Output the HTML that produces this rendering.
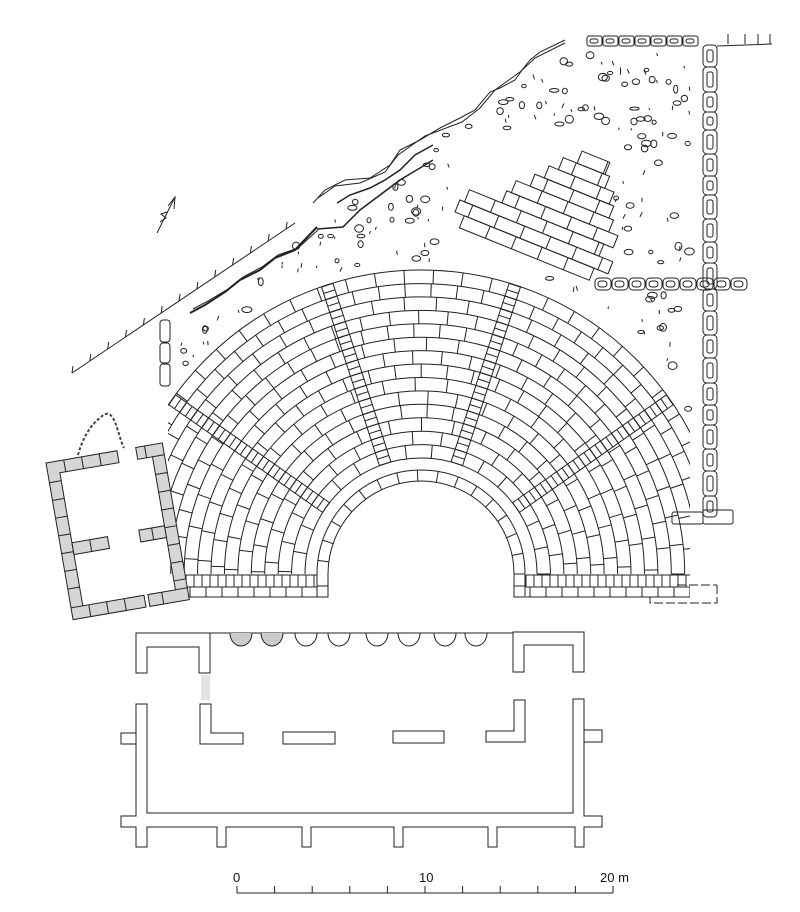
<!DOCTYPE html>
<html><head><meta charset="utf-8"><style>
html,body{margin:0;padding:0;background:#fff;}
svg{display:block;}
text{font-family:"Liberation Sans",sans-serif;font-size:13px;fill:#111;}
</style></head><body>
<svg id="s" width="800" height="912" viewBox="0 0 800 912" xmlns="http://www.w3.org/2000/svg">
<defs>
<clipPath id="cav"><path d="M168,598 L168,400 L200,350 L250,300 L300,270 L421,262 L560,275 L650,330 L690,400 L690,598 Z"/></clipPath>
</defs>
<g id="cavea" clip-path="url(#cav)" fill="none" stroke="#222" stroke-width="1"></g>
<g id="misc" fill="none" stroke="#222" stroke-width="1"></g>

<!-- left building -->
<g transform="translate(46,463) rotate(-9.8)" fill="#d6d6d6" stroke="#222" stroke-width="1">
<path d="M0,0 H72 V12 H12 V147 H74 V159 H0 Z"/>
<path d="M91,0 H118 V159 H78 V147 H106 V12 H91 Z"/>
<rect x="12" y="83" width="36" height="12"/>
<rect x="80" y="82" width="26" height="12"/>
<g stroke="#222" fill="none">
<path d="M18,0V12M36,0V12M54,0V12M0,20H12M0,38H12M0,56H12M0,74H12M0,92H12M0,110H12M0,128H12M0,147H12M18,147V159M36,147V159M54,147V159M30,83V95"/>
<path d="M106,12H118M106,30H118M106,48H118M106,66H118M106,84H118M106,102H118M106,120H118M106,138H118M106,147H118M92,147V159M93,82V94M100,0V12"/>
</g>
</g>
<path d="M78,455 C82,440 90,425 100,418 C106,412 110,412 114,420 C118,428 120,440 124,448" fill="none" stroke="#444" stroke-width="2" stroke-dasharray="3,2"/>

<!-- scene building -->
<g fill="none" stroke="#222" stroke-width="1">
<path d="M136,633 H210 V673 H199 V647 H147 V673 H136 Z"/>
<path d="M210,633 H513"/>
<path d="M513,632 H584 V672 H573 V645 H524 V672 H513 Z"/>
<path d="M136,704 H147 V813 H573 V699 H584 V816 H602 V827 H584 V847 H575 V827 H497 V847 H488 V827 H403 V847 H394 V827 H311 V847 H302 V827 H226 V847 H217 V827 H147 V847 H136 V827 H121 V816 H136 Z"/>
<rect x="121" y="733" width="15" height="11"/>
<rect x="584" y="730" width="18" height="12"/>
<path d="M200,704 H211 V733 H243 V744 H200 Z"/>
<rect x="283" y="732" width="52" height="12"/>
<rect x="393" y="731" width="51" height="12"/>
<path d="M514,700 H525 V742 H486 V731 H514 Z"/>
<path d="M230,633 a11,13 0 0 0 22,0" fill="#ccc"/>
<path d="M261,633 a11,13 0 0 0 22,0" fill="#ccc"/>
<path d="M295,633 a11,13 0 0 0 22,0"/>
<path d="M328,633 a11,13 0 0 0 22,0"/>
<path d="M366,633 a11,13 0 0 0 22,0"/>
<path d="M398,633 a11,13 0 0 0 22,0"/>
<path d="M434,633 a11,13 0 0 0 22,0"/>
<path d="M465,633 a11,13 0 0 0 22,0"/>
</g>
<rect x="201" y="675" width="9" height="25" fill="#e4e4e4"/>

<!-- scale bar -->
<g stroke="#222" stroke-width="1" fill="none" id="scale"><path d="M237,893 H613"/></g>
<text x="233" y="882">0</text>
<text x="419" y="882">10</text>
<text x="600" y="882">20 m</text>
</svg>
<script>
(function(){
var NS="http://www.w3.org/2000/svg";
var cav=document.getElementById('cavea'),misc=document.getElementById('misc');
function el(p,t,a){var e=document.createElementNS(NS,t);for(var k in a)e.setAttribute(k,a[k]);p.appendChild(e);return e;}
function line(p,x1,y1,x2,y2,w){el(p,'line',{x1:x1.toFixed(1),y1:y1.toFixed(1),x2:x2.toFixed(1),y2:y2.toFixed(1),'stroke-width':w||1});}
var cx=421,cy=574,D=Math.PI/180;
function P(a,r){return [cx+r*Math.cos(a*D),cy-r*Math.sin(a*D)];}
var R0=116,R1=304,N=14,dr=(R1-R0)/N;
for(var i=0;i<=N;i++){var r=R0+i*dr;var a=P(0,r),b=P(180,r);
 el(cav,'path',{d:'M'+a[0]+','+a[1]+' A'+r+','+r+' 0 0 0 '+b[0]+','+b[1]});}
var aisles=[108,72,145,35];
function inA(a,r){for(var k=0;k<4;k++){if(Math.abs(r*Math.sin((a-aisles[k])*D))<7&&Math.cos((a-aisles[k])*D)>0)return true;}return false;}
for(var i=0;i<N;i++){var r=R0+i*dr,r2=r+dr,rm=r+dr/2;var step=(26+ (i%3)*3)/rm/D;var off=(i%2)*step/2+ (i*7)%5;
 for(var a=off;a<=180;a+=step){if(inA(a,rm))continue;var p=P(a,r),q=P(a,r2);line(cav,p[0],p[1],q[0],q[1]);}}
for(var k=0;k<4;k++){var t=aisles[k]*D;var ux=Math.cos(t),uy=-Math.sin(t),nx=Math.sin(t),ny=Math.cos(t);
 for(var s=-1;s<=1;s+=2){line(cav,cx+R0*ux+s*6*nx,cy+R0*uy+s*6*ny,cx+R1*ux+s*6*nx,cy+R1*uy+s*6*ny);}
 for(var r=R0;r<=R1;r+=6.7){line(cav,cx+r*ux-6*nx,cy+r*uy-6*ny,cx+r*ux+6*nx,cy+r*uy+6*ny);}
 // gap whites are approximated
}
// bottom bands
function band(x1,x2){line(cav,x1,575,x2,575);line(cav,x1,587,x2,587);line(cav,x1,597,x2,597);
 for(var x=x1;x<=x2;x+=8)line(cav,x,575,x,587);for(var x=x1+4;x<=x2;x+=16)line(cav,x,587,x,597);}
band(186,317);band(526,690);
// orchestra ring
var ro=104,ri=93;
[ro,ri].forEach(function(r){var a=P(0,r),b=P(180,r);el(misc,'path',{d:'M'+a[0]+','+a[1]+' A'+r+','+r+' 0 0 0 '+b[0]+','+b[1]});});
el(misc,'path',{d:'M317,574 V597 H328 V574 M514,574 V597 H525 V574'});
for(var a=0;a<=180;a+=11.5){var p=P(a,ri),q=P(a,ro);line(misc,p[0],p[1],q[0],q[1]);}
line(misc,317,586,328,586);line(misc,514,586,525,586);
// right bottom dashed lines
el(misc,'path',{d:'M677,585 H717 M540,597 H650 V603 H717 V585','stroke-dasharray':'9,3'});
// scale ticks
var sc=document.getElementById('scale');for(var j=0;j<=10;j++){var x=237+j*37.6;line(sc,x,893,x,886);}
// hatched boundary
var hx1=72,hy1=373,hx2=295,hy2=223;line(misc,hx1,hy1,hx2,hy2);
for(var j=0;j<13;j++){var x=hx1+(hx2-hx1)*j/12.5,y=hy1+(hy2-hy1)*j/12.5;line(misc,x,y,x+1,y-7);}
// cracks
function pl(pts,w){el(misc,'polyline',{points:pts,'stroke-width':w||1});}
pl('190,313 205,305 225,292 240,280 260,270 275,258 295,250 317,227',2);
pl('193,309 208,301 228,289 243,277 262,267 278,255 298,248 318,230',1);
pl('317,229 343,227 360,210 380,195 400,180 420,168 433,160',1.5);
pl('337,203 350,195 370,188 385,180 400,170 415,155 433,145',1.5);
pl('313,203 325,190 345,180 370,178 390,165 400,150 420,140 440,128 460,118 475,110 490,92 500,88 515,80 522,70 530,60 540,52 565,40',1);
pl('318,198 335,186 360,183 385,172 398,155 425,136 462,122 480,108 495,90 520,72 535,58 565,43',1);
// north arrow
pl('157,233 175,197',1);pl('168,206 175,197 174,209',1);pl('160,222 166,218 161,214 167,212',1);
// left stone pillar
el(misc,'rect',{x:160,y:320,width:10,height:22,rx:3});el(misc,'rect',{x:160,y:343,width:10,height:20,rx:3});el(misc,'rect',{x:160,y:364,width:10,height:22,rx:3});
// right wall stones
var y=45;var hs=[22,25,20,18,24,22,19,24,23,21,26,22,24,23,25,22,20,24,22,25,21];
for(var j=0;j<hs.length&&y<583;j++){var h=Math.min(hs[j],583-y);el(misc,'rect',{x:703,y:y,width:14,height:h,rx:4});
 el(misc,'rect',{x:707,y:y+5,width:6,height:Math.max(2,h-10),rx:2});y+=h;}
// top wall
for(var x=587;x<685;x+=16){el(misc,'rect',{x:x,y:36,width:15,height:10,rx:2});el(misc,'rect',{x:x+3,y:39,width:8,height:4,rx:2});}
line(misc,717,46,772,44);[728,745,758,770].forEach(function(x){line(misc,x,44,x,34);});
// cross walls
for(var x=595;x<733;x+=17){el(misc,'rect',{x:x,y:278,width:16,height:12,rx:4});el(misc,'rect',{x:x+3,y:281,width:9,height:6,rx:3});}
el(misc,'rect',{x:672,y:512,width:31,height:12,rx:2});el(misc,'rect',{x:703,y:510,width:30,height:14,rx:2});
// brick patch
var g=el(misc,'g',{transform:'translate(455,212) rotate(22)'});
var rows=[[10,150],[0,165],[5,150],[40,160],[45,150],[60,145],[70,140],[80,130],[95,125]];
for(var k=0;k<rows.length;k++){var yy=-k*13;el(g,'rect',{x:rows[k][0],y:yy,width:rows[k][1]-rows[k][0],height:13});
 for(var x=rows[k][0]+((k%2)?14:28);x<rows[k][1];x+=28)line(g,x,yy,x,yy+13);}
// rubble
var seed=7;function rnd(){seed=(seed*16807)%2147483647;return seed/2147483647;}
for(var n=0,c=0;n<170&&c<5000;c++){var x=175+rnd()*525,y=50+rnd()*540;
 var lineY=313+(x-190)*(40-313)/(565-190); if(y<lineY+8)continue;
 var dx=x-cx,dy=y-cy;if(Math.sqrt(dx*dx+dy*dy)<314&&y<598)continue;
 if(x>690)continue; if(y>270&&y<295&&x>590)continue;
 // avoid brick patch
 if(x>450&&x<615&&y>130&&y<275&&(y-130)>(x-450)*-0.2)continue;
 if(y>45&&y<52)continue;
 var s=rnd();if(s<0.55){el(misc,'ellipse',{cx:x.toFixed(1),cy:y.toFixed(1),rx:(2+rnd()*3).toFixed(1),ry:(1.5+rnd()*2.5).toFixed(1)});}
 else{var l=2+rnd()*3;line(misc,x,y,x+l*(rnd()-0.5),y+l);}
 n++;}
})();
</script>
</body></html>
